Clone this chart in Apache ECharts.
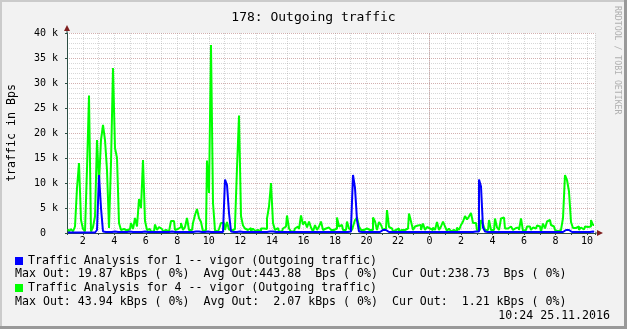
<!DOCTYPE html>
<html>
<head>
<meta charset="utf-8">
<script src="https://cdn.jsdelivr.net/npm/echarts@6/dist/echarts.min.js"></script>
<style>
html,body{margin:0;padding:0;background:#F2F2F2;}
#chart{width:627px;height:329px;}
</style>
</head>
<body>
<div id="chart"></div>
<script>
// time range of the graph, in hours since midnight of the first day
const hoursStart = 1;
const hoursEnd = 34.5;
// y tick labels
const yTicks = [0, 5, 10, 15, 20, 25, 30, 35, 40];

const seriesNames = [
  'Traffic Analysis for 1 -- vigor (Outgoing traffic)',
  'Traffic Analysis for 4 -- vigor (Outgoing traffic)'
];
const statLines = [
  'Max Out: 19.87 kBps ( 0%)  Avg Out:443.88  Bps ( 0%)  Cur Out:238.73  Bps ( 0%)',
  'Max Out: 43.94 kBps ( 0%)  Avg Out:  2.07 kBps ( 0%)  Cur Out:  1.21 kBps ( 0%)'
];
const dateText = '10:24 25.11.2016';

// values in kBps, one sample per time step
const trafficIf1 = [
  0.1,0.1,0.1,0.1,0.1,0.1,0.1,0.1,0.1,0.1,
  0.1,0.1,0.1,0.1,0.3,0.6,11.6,5,0.3,0.2,
  0.2,0.2,0.2,0.3,0.2,0.2,0.2,0.2,0.2,0.2,
  0.2,0.3,0.2,0.2,0.2,0.2,0.2,0.2,0.3,0.2,
  0.2,0.2,0.2,0.2,0.2,0.2,0.2,0.2,0.2,0.2,
  0.2,0.2,0.3,0.2,0.2,0.2,0.2,0.2,0.2,0.2,
  0.2,0.2,0.2,0.2,0.3,0.3,0.2,0.2,0.2,0.2,
  0.3,0.2,0.3,0.2,0.2,0.2,0.2,0.2,0.2,10.7,
  9.6,4,0.3,0.2,0.2,0.2,0.3,0.2,0.2,0.2,
  0.2,0.2,0.2,0.2,0.2,0.2,0.2,0.2,0.2,0.2,
  0.2,0.3,0.3,0.2,0.2,0.2,0.2,0.2,0.2,0.2,
  0.2,0.2,0.2,0.2,0.2,0.2,0.2,0.2,0.2,0.2,
  0.2,0.2,0.2,0.2,0.2,0.2,0.2,0.2,0.2,0.2,
  0.2,0.2,0.2,0.2,0.2,0.2,0.2,0.2,0.2,0.2,
  0.2,0.3,1,11.6,9,2.6,0.3,0.2,0.2,0.2,
  0.2,0.2,0.2,0.2,0.2,0.2,0.2,0.6,0.6,0.6,
  0.2,0.2,0.2,0.2,0.2,0.2,0.2,0.2,0.2,0.2,
  0.2,0.2,0.2,0.2,0.2,0.2,0.2,0.2,0.2,0.2,
  0.2,0.2,0.2,0.2,0.2,0.2,0.2,0.2,0.2,0.2,
  0.2,0.2,0.2,0.2,0.2,0.2,0.2,0.2,0.2,0.2,
  0.2,0.2,0.2,0.2,0.3,0.3,10.7,9.3,1.1,0.3,
  0.2,0.2,0.2,0.2,0.2,0.2,0.2,0.2,0.2,0.2,
  0.2,0.2,0.2,0.2,0.2,0.2,0.2,0.2,0.2,0.2,
  0.2,0.2,0.2,0.2,0.2,0.2,0.2,0.2,0.2,0.2,
  0.2,0.2,0.2,0.2,0.2,0.2,0.2,0.2,0.6,0.6,
  0.6,0.2,0.2,0.2,0.2,0.2,0.2,0.2,0.2,0.2,
  0.2,0.2,0.3,0.2
];
const trafficIf4 = [
  0.8,0.3,0.8,0.3,1.3,9,14,2.6,0.8,0.3,
  12.8,27.5,0.3,1.2,3.3,18.6,10,18.6,21.6,18.6,
  12.6,1,14,33,17,15,2,0.6,0.8,0.5,
  0.6,0.8,2,0.8,3,1.3,6.8,5,14.6,2.4,
  0.6,0.8,0.3,0.3,1.7,0.6,1.2,0.8,0.3,0.6,
  0.3,0.3,2.4,2.4,0.6,0.8,1.2,2,0.6,1.2,
  3,0.6,0.6,2,3.6,4.8,3,2.2,0.3,0.6,
  14.5,8,37.6,6,0.5,0.3,0.8,2,2,0.6,
  2.2,0.7,0.5,0.8,1.5,13,23.5,3.4,1.5,0.9,
  0.6,1,0.3,0.9,0.4,0.6,0.3,0.9,0.9,0.8,
  2.9,5.3,10,2,0.6,1,0.3,0.3,0.9,1.3,
  3.5,0.9,0.3,0.3,0.9,1.3,0.8,3.5,1.7,2.3,
  1.1,2.3,1.1,0.3,1.6,0.6,1.3,2.3,0.6,0.9,
  1.1,1.1,0.6,0.6,0.9,3.1,1.3,1.6,0.6,0.6,
  2.3,0.9,0.6,1.3,2.6,3.1,1.3,0.6,0.6,0.9,
  0.9,0.6,0.6,3.1,2.3,0.6,2.2,1.6,0.6,0.9,
  4.6,1.2,0.9,0.3,0.6,0.9,0.3,0.6,0.6,0.9,
  0.9,3.9,2.3,0.6,1.3,1.5,1.6,0.6,1.9,0.6,
  1.2,0.9,0.6,1.1,0.6,2.2,0.6,1.3,2.3,1.3,
  0.4,0.9,0.3,0.6,0.3,1.1,0.6,1.6,2.3,3.4,
  2.7,3.3,4,2,2,0.6,0.6,2.6,1.8,0.6,
  0.6,2.6,0.6,0.6,2.9,1.1,0.6,2.9,3.1,0.9,
  0.9,1.3,1.3,0.6,1,1.1,0.6,2.9,0.4,0.6,
  1.3,1.3,0.6,1.1,0.9,1.5,1.3,0.3,1.9,0.9,
  2.3,2.6,1.6,1.3,0.6,0.3,0.6,0.3,3,11.6,
  10.6,8.3,2.2,1,1,1.3,0.6,1.1,0.7,1.3,
  1.2,1.3,2.6,1.6
];

const N = trafficIf4.length;
const stepH = (hoursEnd - hoursStart) / N;
const toPairs = arr => arr.map((v, i) => [hoursStart + (i + 0.5) * stepH, v]);

const FONT = 'DejaVu Sans Mono';
const GRID = 'rgba(140,140,140,0.35)';
const MGRID = 'rgba(130,30,30,0.35)';
const AXIS = '#2C4D43';
const ARROW = '#7F1F1F';

const chart = echarts.init(document.getElementById('chart'), null, {renderer: 'canvas'});
chart.setOption({
  animation: false,
  backgroundColor: '#F2F2F2',
  title: {
    text: '178: Outgoing traffic',
    left: 'center', top: 6,
    textStyle: {fontFamily: FONT, fontSize: 13, fontWeight: 'normal', color: '#000'}
  },
  grid: {left: 67, right: 32, top: 33, bottom: 96, show: true, backgroundColor: '#FFFFFF', borderWidth: 0,
         containLabel: false, outerBoundsMode: 'none'},
  legend: [
    {data: [seriesNames[0]], left: 15, top: 255, padding: 0, icon: 'rect', itemWidth: 8, itemHeight: 8,
     selectedMode: false, textStyle: {fontFamily: FONT, fontSize: 11.6, color: '#000'}},
    {data: [seriesNames[1]], left: 15, top: 282, padding: 0, icon: 'rect', itemWidth: 8, itemHeight: 8,
     selectedMode: false, textStyle: {fontFamily: FONT, fontSize: 11.6, color: '#000'}}
  ],
  xAxis: {
    type: 'value', min: hoursStart, max: hoursEnd, interval: 1,
    axisLine: {show: true, lineStyle: {color: AXIS, width: 1}},
    axisTick: {show: true, length: 2, lineStyle: {color: AXIS}},
    axisLabel: {
      margin: 3, fontFamily: FONT, fontSize: 10, color: '#000',
      formatter: v => (Number.isInteger(v) && v % 2 === 0) ? String(v % 24) : ''
    },
    splitLine: {show: true, lineStyle: {color: GRID, width: 1, type: [1, 1]}}
  },
  yAxis: {
    type: 'value', min: yTicks[0], max: yTicks[yTicks.length - 1], interval: yTicks[1] - yTicks[0],
    name: 'traffic in Bps', nameLocation: 'middle', nameGap: 49, nameRotate: 90,
    nameTextStyle: {fontFamily: FONT, fontSize: 11.6, color: '#000'},
    axisLine: {show: true, lineStyle: {color: AXIS, width: 1}},
    axisTick: {show: true, length: 2, lineStyle: {color: AXIS}},
    axisLabel: {
      margin: 9, fontFamily: FONT, fontSize: 10, color: '#000',
      formatter: v => v === 0 ? '0  ' : v + ' k'
    },
    splitLine: {show: true, lineStyle: {color: MGRID, width: 1, type: [1, 1]}},
    minorTick: {show: false, splitNumber: 5},
    minorSplitLine: {show: true, lineStyle: {color: GRID, width: 1, type: [1, 1]}}
  },
  series: [
    {
      name: 'midnight', type: 'line', data: [], z: 1, silent: true,
      markLine: {
        silent: true, symbol: 'none', label: {show: false},
        lineStyle: {color: MGRID, width: 1, type: [1, 1]},
        data: [{xAxis: 24}]
      }
    },
    {
      name: seriesNames[1], type: 'line', step: 'middle', showSymbol: false, z: 3,
      data: toPairs(trafficIf4), color: '#00FF00',
      lineStyle: {color: '#00FF00', width: 2}, itemStyle: {color: '#00FF00'}
    },
    {
      name: seriesNames[0], type: 'line', step: 'middle', showSymbol: false, z: 4,
      data: toPairs(trafficIf1), color: '#0000FF',
      lineStyle: {color: '#0000FF', width: 2}, itemStyle: {color: '#0000FF'}
    }
  ],
  graphic: [
    {type: 'rect', shape: {x: 0, y: 0, width: 627, height: 2}, style: {fill: '#CBCBCB'}, silent: true},
    {type: 'rect', shape: {x: 0, y: 0, width: 2, height: 329}, style: {fill: '#CBCBCB'}, silent: true},
    {type: 'rect', shape: {x: 624, y: 0, width: 3, height: 329}, style: {fill: '#999999'}, silent: true},
    {type: 'rect', shape: {x: 0, y: 326, width: 627, height: 3}, style: {fill: '#999999'}, silent: true},
    {type: 'line', shape: {x1: 67, y1: 33, x2: 67, y2: 29}, style: {stroke: AXIS, lineWidth: 1}, silent: true},
    {type: 'line', shape: {x1: 595, y1: 233, x2: 598, y2: 233}, style: {stroke: AXIS, lineWidth: 1}, silent: true},
    {type: 'polygon', shape: {points: [[64, 31], [70, 31], [67, 25]]}, style: {fill: ARROW}, silent: true},
    {type: 'polygon', shape: {points: [[597, 230], [597, 236], [603, 233]]}, style: {fill: ARROW}, silent: true},
    {type: 'text', x: 617, y: 6, rotation: -Math.PI / 2, silent: true,
     style: {text: 'RRDTOOL / TOBI OETIKER', fontFamily: FONT, fontSize: 8.2, fill: '#B0B0B0', align: 'left', verticalAlign: 'middle'}},
    {type: 'text', left: 15, top: 268, silent: true,
     style: {text: statLines[0], fontFamily: FONT, fontSize: 11.6, fill: '#000'}},
    {type: 'text', left: 15, top: 296, silent: true,
     style: {text: statLines[1], fontFamily: FONT, fontSize: 11.6, fill: '#000'}},
    {type: 'text', right: 17, top: 310, silent: true,
     style: {text: dateText, fontFamily: FONT, fontSize: 11.6, fill: '#000'}}
  ]
});
</script>
</body>
</html>
